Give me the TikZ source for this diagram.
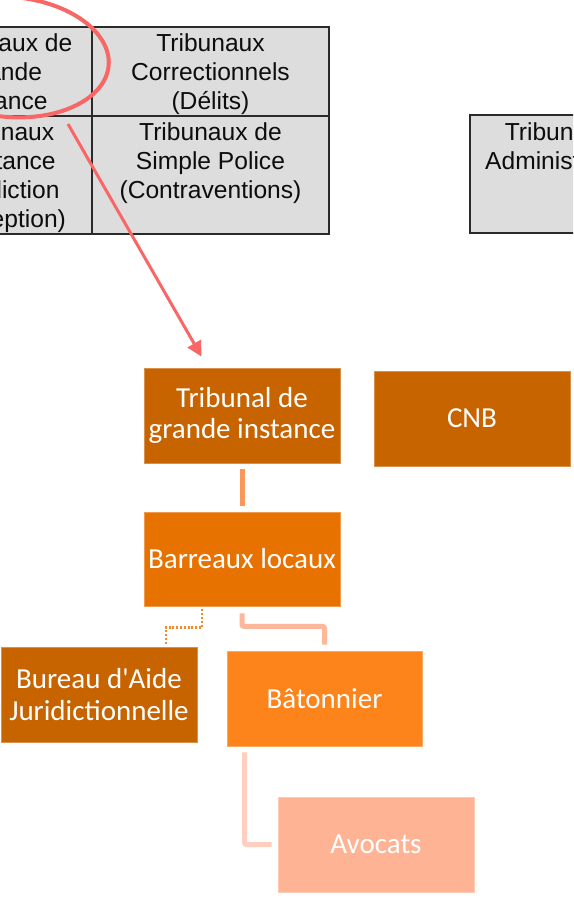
\documentclass[tikz,border=0pt]{standalone}
\usepackage{fontspec}
\setmainfont{Carlito}
\newfontfamily\arialf{Liberation Sans}
\usetikzlibrary{arrows.meta}
\definecolor{tblgray}{HTML}{DDDDDD}
\definecolor{tblline}{HTML}{2A2A2A}
\definecolor{redmark}{HTML}{F86666}
\definecolor{orA}{HTML}{C86400}
\definecolor{orB}{HTML}{E77200}
\definecolor{orC}{HTML}{FD841A}
\definecolor{orD}{HTML}{FDB394}
\definecolor{cnA}{HTML}{F9985A}
\definecolor{cnB}{HTML}{FDB79A}
\definecolor{cnC}{HTML}{FECFBF}
\definecolor{cnDot}{HTML}{F58A2A}
\tikzset{
  tbltext/.style={anchor=base, inner sep=0pt, text=black!95, font=\arialf\fontsize{24.6}{29}\selectfont},
  tblrule/.style={draw=tblline, line width=1.2pt},
  obox/.style={rectangle, minimum width=196pt, minimum height=95pt, inner sep=0pt,
    align=center, text=white, font=\fontsize{29}{31.5}\selectfont,
    fill=#1, draw=#1!70!white, line width=0.8pt},
  conn/.style={draw=#1, line width=5pt},
  dotconn/.style={draw=cnDot, line width=2.2pt, dash pattern=on 2pt off 1.8pt},
  redarrow/.style={draw=redmark, line width=3pt, -{Triangle[length=15pt,width=15pt]}}
}
\begin{document}
\begin{tikzpicture}[x=1pt,y=-1pt]
\useasboundingbox (0,0) rectangle (573,899);
\clip (0,0) rectangle (573,899);
\fill[white] (0,0) rectangle (573,899);
% table
\fill[tblgray] (-90,27) rectangle (329,234);
\draw[tblrule] (-90,27) rectangle (329,234);
\draw[tblrule] (-90,116) -- (329,116);
\draw[tblrule] (92,27) -- (92,234);
\fill[tblgray] (470,115) rectangle (648,233);
\draw[tblrule] (470,115) rectangle (648,233);
\node[tbltext] (c11) at (1,52) {\begin{tabular}[t]{@{}c@{}}Tribunaux de\\Grande\\Instance\end{tabular}};
\node[tbltext] (c12) at (210.5,52) {\begin{tabular}[t]{@{}c@{}}Tribunaux\\Correctionnels\\(Délits)\end{tabular}};
\node[tbltext] (c21) at (0,140) {\begin{tabular}[t]{@{}c@{}}Tribunaux\\d\textquotesingle Instance\\(Juridiction\\d\textquotesingle exception)\end{tabular}};
\node[tbltext] (c22) at (210.5,140) {\begin{tabular}[t]{@{}c@{}}Tribunaux de\\Simple Police\\(Contraventions)\end{tabular}};
\node[tbltext] (adm) at (559,140) {\begin{tabular}[t]{@{}c@{}}Tribunaux\\Administratifs\end{tabular}};
% red ellipse
\draw[redmark, line width=4pt, rotate around={-5:(10,57)}] (10,57) ellipse [x radius=99pt, y radius=60pt];
% boxes
\node[obox=orA] (tgi) at (242,415.5) {Tribunal de\\grande instance};
\node[obox=orA] (cnb) at (472,418.5) {CNB};
\node[obox=orB, minimum height=94pt] (bar) at (242,559) {Barreaux locaux};
\node[obox=orA] (bur) at (99,694.5) {Bureau d\textquotesingle Aide\\Juridictionnelle};
\node[obox=orC, minimum width=195pt] (bat) at (324.5,698.5) {Bâtonnier};
\node[obox=orD] (av) at (376,844.5) {Avocats};
% connectors
\draw[conn=cnA] ([yshift=-6pt]tgi.south) -- ([yshift=6pt]bar.north);
\draw[dotconn] ([xshift=-40pt,yshift=-3pt]bar.south) -- ++(0,18) -| ([xshift=67pt,yshift=2pt]bur.north);
\draw[conn=cnB, rounded corners=2pt] ([yshift=-7pt]bar.south) -- ++(0,13) -| ([yshift=6pt]bat.north);
\draw[conn=cnC, rounded corners=2pt] ([xshift=-80pt,yshift=-6pt]bat.south) |- ([xshift=-6pt]av.west);
% red arrow
\coordinate (arrstart) at (68,124);
\draw[redarrow] (arrstart) -- ([xshift=58pt,yshift=11pt]tgi.north west);
\end{tikzpicture}
\end{document}
